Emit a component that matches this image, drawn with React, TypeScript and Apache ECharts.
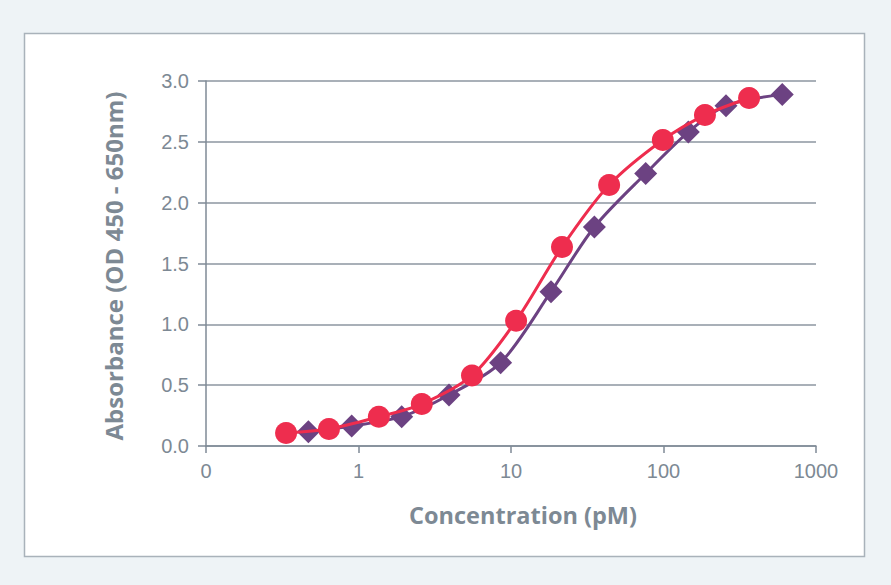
import React, { useEffect, useRef } from "react";
import * as echarts from "echarts";

const purpleX = [0.469, 0.902, 1.92, 3.92, 8.55, 18.3, 35.2, 76.4, 145.5, 257, 601];
const purpleY = [0.118, 0.164, 0.241, 0.419, 0.685, 1.268, 1.8, 2.24, 2.58, 2.797, 2.89];
const redX = [0.335, 0.64, 1.36, 2.6, 5.55, 10.8, 21.6, 44, 99, 187, 364];
const redY = [0.107, 0.14, 0.24, 0.345, 0.58, 1.03, 1.635, 2.145, 2.515, 2.72, 2.86];
const xTickMin = 0.1;
const xTickMax = 1000;
const yMin = 0;
const yMax = 3;
const yInterval = 0.5;
const xName = "Concentration (pM)";
const yName = "Absorbance (OD 450 - 650nm)";

const textColor = "#7d8994";
const axisColor = "#7f8a96";

export default function App() {
  const ref = useRef<HTMLDivElement>(null);
  useEffect(() => {
    document.body.style.margin = "0";
    const chart = echarts.init(ref.current!, null, { renderer: "svg" });
    chart.setOption({
      animation: false,
      backgroundColor: "#eef3f6",
      graphic: [
        {
          type: "rect",
          z: -10,
          shape: { x: 24.5, y: 33.5, width: 840, height: 523 },
          style: { fill: "#ffffff", stroke: "#a9b2ba", lineWidth: 1.5 },
        },
      ],
      grid: { left: 206, right: 75, top: 81, bottom: 139 },
      xAxis: {
        type: "log",
        logBase: 10,
        min: xTickMin,
        max: xTickMax,
        name: xName,
        nameLocation: "middle",
        nameGap: 57,
        nameTextStyle: {
          color: textColor,
          fontSize: 23.5,
          fontWeight: "bold",
          fontFamily: "Open Sans",
          padding: [0, 0, 0, 24],
        },
        axisLine: { show: true, lineStyle: { color: axisColor, width: 1.5 } },
        axisTick: { show: true, length: 7, lineStyle: { color: axisColor, width: 1.5 } },
        minorTick: { show: false },
        splitLine: { show: false },
        axisLabel: {
          color: textColor,
          fontSize: 20,
          margin: 15,
          fontFamily: "Liberation Sans",
          formatter: (v: number) => (v < 1 ? "0" : String(Math.round(v))),
        },
      },
      yAxis: {
        type: "value",
        min: yMin,
        max: yMax,
        interval: yInterval,
        name: yName,
        nameLocation: "middle",
        nameGap: 81,
        nameRotate: 90,
        nameTextStyle: {
          color: textColor,
          fontSize: 24,
          fontWeight: "bold",
          fontFamily: "Open Sans",
          padding: [0, 5, 0, 0],
        },
        axisLine: { show: true, lineStyle: { color: axisColor, width: 1.5 } },
        axisTick: { show: true, length: 8, lineStyle: { color: axisColor, width: 1.5 } },
        splitLine: { show: true, lineStyle: { color: "#8c96a0", width: 1.5 } },
        axisLabel: {
          color: textColor,
          fontSize: 20,
          margin: 17,
          fontFamily: "Liberation Sans",
          formatter: (v: number) => v.toFixed(1),
        },
      },
      series: [
        {
          type: "line",
          data: purpleX.map((x, i) => [x, purpleY[i]]),
          smooth: 0.3,
          symbol: "diamond",
          symbolSize: 23,
          lineStyle: { color: "#6c4282", width: 3 },
          itemStyle: { color: "#6c4282" },
          z: 2,
        },
        {
          type: "line",
          data: redX.map((x, i) => [x, redY[i]]),
          smooth: 0.3,
          symbol: "circle",
          symbolSize: 22,
          lineStyle: { color: "#ee2d4e", width: 3 },
          itemStyle: { color: "#ee2d4e" },
          z: 3,
        },
      ],
    });
    return () => chart.dispose();
  }, []);
  return (
    <div
      ref={ref}
      style={{ position: "fixed", left: 0, top: 0, width: 891, height: 585 }}
    />
  );
}
